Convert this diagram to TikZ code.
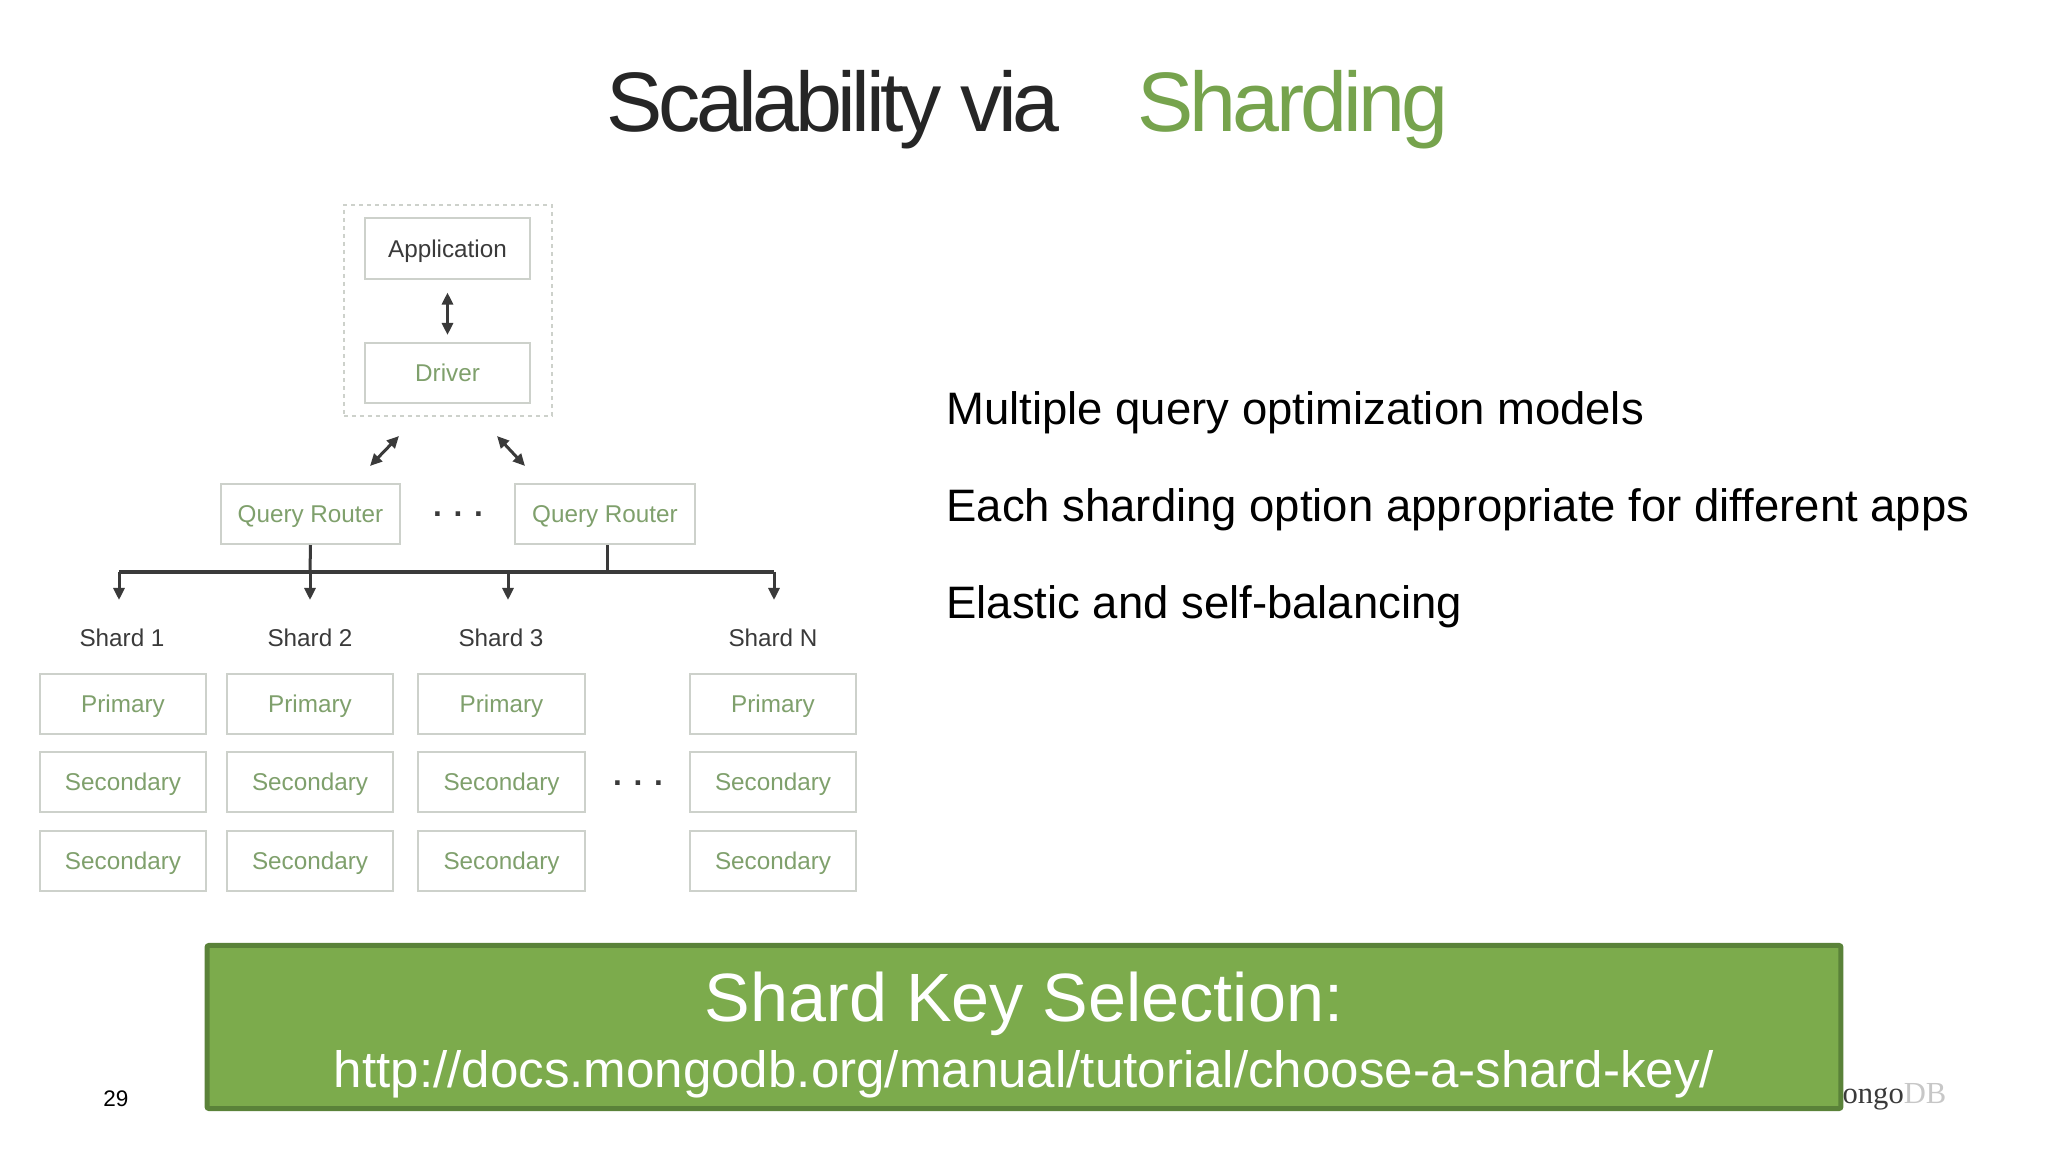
\documentclass[tikz,border=0pt]{standalone}
\usepackage{tikz}
\usepackage{xcolor}
\usepackage{fontspec}
\setmainfont{Liberation Sans}
\newfontfamily\titlefont[LetterSpace=-5.3]{Liberation Sans}
\newfontfamily\titlefontb[LetterSpace=-4.6]{Liberation Sans}
\newfontfamily\logofont{Liberation Serif}
\usetikzlibrary{arrows.meta}

\definecolor{leaf}{HTML}{7CAB4C}
\definecolor{leafdark}{HTML}{5A8239}
\definecolor{titlegreen}{HTML}{76A34D}
\definecolor{boxgrey}{HTML}{CDD1CB}
\definecolor{boxtext}{HTML}{7FA06C}
\definecolor{inkgrey}{HTML}{3A3A3A}

\tikzset{
    tierbox/.style={
        draw=boxgrey,
        fill=white,
        line width=0.2mm,
        align=center,
        text=boxtext,
        inner sep=0pt,
        text height=1.7mm,
        text depth=0pt,
        font=\fontsize{6.9}{8}\selectfont
    },
    shardbox/.style={
        tierbox,
        minimum width=1.66cm,
        minimum height=0.6cm
    },
    routerbox/.style={
        tierbox,
        minimum width=1.79cm,
        minimum height=0.6cm
    },
    clientbox/.style={
        tierbox,
        minimum width=1.65cm,
        minimum height=0.6cm
    },
    shardlabel/.style={
        text=inkgrey,
        font=\fontsize{6.9}{8}\selectfont
    },
    dotslabel/.style={
        text=inkgrey,
        font=\bfseries\fontsize{9}{10}\selectfont
    },
    bodyline/.style={
        anchor=west,
        text=black,
        font=\fontsize{12.93}{15}\selectfont
    },
    link/.style={
        draw=inkgrey,
        line width=0.3mm
    },
    twoway/.style={
        link,
        {Triangle[width=1.1mm,length=1.2mm]}-{Triangle[width=1.1mm,length=1.2mm]}
    },
    drop/.style={
        link,
        -{Triangle[width=1.1mm,length=1.2mm]}
    }
}

\begin{document}
\begin{tikzpicture}[x=0.01cm,y=-0.01cm]

\useasboundingbox (0,0) rectangle (2048,1152);

% slide title
\node[anchor=west,text=black!85,font=\titlefont\fontsize{24}{28}\selectfont] (title) at (594,110) {Scalability via};
\node[anchor=west,text=titlegreen,font=\titlefontb\fontsize{24}{28}\selectfont] (titleb) at (1125,110) {Sharding};

% client side
\node[
    draw=boxgrey,
    dash pattern=on 0.4mm off 0.4mm,
    line width=0.2mm,
    minimum width=2.08cm,
    minimum height=2.11cm
] (client) at (448,310.5) {};

\node[clientbox,text=inkgrey] (app) at (447.5,248.5) {Application};
\node[clientbox] (driver) at (447.5,373) {Driver};

\draw[twoway,shorten <=0.13cm,shorten >=0.07cm] (app) -- (driver);

\coordinate (lefta) at (399,436);
\coordinate (leftb) at (370,466);
\coordinate (righta) at (497,436);
\coordinate (rightb) at (525,466);
\draw[twoway] (lefta) -- (leftb);
\draw[twoway] (righta) -- (rightb);

% routers
\node[routerbox] (routera) at (310.5,514) {Query Router};
\node[dotslabel] (dotsa) at (458,514) {. . .};
\node[routerbox] (routerb) at (605,514) {Query Router};

\coordinate (busa) at (119,572);
\coordinate (busb) at (310,572);
\coordinate (busc) at (508,572);
\coordinate (busd) at (607,572);
\coordinate (buse) at (774,572);
\coordinate (tipa) at (119,600);
\coordinate (tipb) at (310,600);
\coordinate (tipc) at (508,600);
\coordinate (tipd) at (774,600);

\draw[link] (routera.south) -- (busb);
\draw[link] (routerb.south -| busd) -- (busd);
\draw[link,line width=0.4mm] (busa) -- (buse);
\draw[drop] (busa) -- (tipa);
\draw[drop] (busb) -- (tipb);
\draw[drop] (busc) -- (tipc);
\draw[drop] (buse) -- (tipd);

% shards
\node[shardlabel] (sa) at (122,638) {Shard 1};
\node[shardlabel] (sb) at (310,638) {Shard 2};
\node[shardlabel] (sc) at (501,638) {Shard 3};
\node[shardlabel] (sd) at (773,638) {Shard N};

\node[shardbox] (pa) at (123,704) {Primary};
\node[shardbox] (ma) at (123,782) {Secondary};
\node[shardbox] (na) at (123,861) {Secondary};

\node[shardbox] (pb) at (310,704) {Primary};
\node[shardbox] (mb) at (310,782) {Secondary};
\node[shardbox] (nb) at (310,861) {Secondary};

\node[shardbox] (pc) at (501.5,704) {Primary};
\node[shardbox] (mc) at (501.5,782) {Secondary};
\node[shardbox] (nc) at (501.5,861) {Secondary};

\node[dotslabel] (dotsb) at (638,783) {. . .};

\node[shardbox] (pd) at (773,704) {Primary};
\node[shardbox] (md) at (773,782) {Secondary};
\node[shardbox] (nd) at (773,861) {Secondary};

% right column
\node[bodyline] (linea) at (934,413) {Multiple query optimization models};
\node[bodyline] (lineb) at (934,510) {Each sharding option appropriate for different apps};
\node[bodyline] (linec) at (934,607) {Elastic and self-balancing};

% footer
\node[font=\fontsize{6.4}{8}\selectfont] (page) at (116,1099) {29};
\node[anchor=east,inner sep=0pt,font=\logofont\fontsize{8.7}{10}\selectfont] (logo) at (1947,1097) {\textcolor{inkgrey}{mongo}\textcolor{black!22}{DB}};

\node[
    draw=leafdark,
    fill=leaf,
    line width=0.5mm,
    rounded corners=0.2mm,
    minimum width=16.33cm,
    minimum height=1.63cm
] (banner) at (1024,1027) {};

\node[text=white,font=\fontsize{19.44}{22}\selectfont] (keyline) at (1024,1004) {Shard Key Selection:};
\node[text=white,font=\fontsize{14.53}{17}\selectfont] (urlline) at (1024,1074) {http://docs.mongodb.org/manual/tutorial/choose-a-shard-key/};

\end{tikzpicture}
\end{document}
